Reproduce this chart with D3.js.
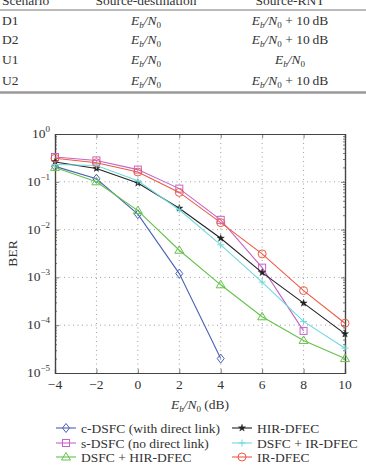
<!DOCTYPE html>
<html>
<head>
<meta charset="utf-8">
<script src="https://cdn.jsdelivr.net/npm/d3@7"></script>
<style>
  body { margin: 0; background: #fff; }
  svg { display: block; font-family: "Liberation Serif", "DejaVu Serif", serif; }
</style>
</head>
<body>
<div id="chart"></div>
<script>
// Table content
const tableHeader = ['Scenario', 'Source-destination', 'Source-RNT'];
const scenarios = ['D1', 'D2', 'U1', 'U2'];
const srcDest = ['ebn0', 'ebn0', 'ebn0', 'ebn0'];
const srcRnt = ['ebn0+10', 'ebn0+10', 'ebn0', 'ebn0+10'];

// Chart data
const snr = [-4, -2, 0, 2, 4, 6, 8, 10];
const xTicks = [-4, -2, 0, 2, 4, 6, 8, 10];
const yExps = [0, -1, -2, -3, -4, -5];

const cDsfc = [0.21, 0.116, 0.021, 0.0012, 2.0e-5];
const sDsfc = [0.33, 0.28, 0.18, 0.072, 0.016, 0.0016, 7.6e-5];
const dsfcHir = [0.2, 0.1, 0.025, 0.0037, 7.0e-4, 1.5e-4, 4.8e-5, 2.0e-5];
const hirDfec = [0.26, 0.19, 0.094, 0.028, 0.0066, 0.00126, 2.9e-4, 6.6e-5];
const dsfcIr = [0.23, 0.22, 0.105, 0.026, 0.0048, 8.0e-4, 1.2e-4, 3.3e-5];
const irDfec = [0.31, 0.25, 0.16, 0.06, 0.014, 0.0031, 5.3e-4, 1.1e-4];

const series = [
  {name: 'c-DSFC (with direct link)', values: cDsfc, color: '#4a62b4', marker: 'diamond'},
  {name: 's-DSFC (no direct link)', values: sDsfc, color: '#c564c8', marker: 'square'},
  {name: 'DSFC + HIR-DFEC', values: dsfcHir, color: '#64c24a', marker: 'triangle'},
  {name: 'HIR-DFEC', values: hirDfec, color: '#222222', marker: 'star'},
  {name: 'DSFC + IR-DFEC', values: dsfcIr, color: '#6fd9dc', marker: 'plus'},
  {name: 'IR-DFEC', values: irDfec, color: '#ee5a45', marker: 'circle'}
];

const W = 366, H = 466;
const svg = d3.select('#chart').append('svg').attr('width', W).attr('height', H);
const txt = '#333';

// ---- table ----
function ebn0(sel, x, y, plus) {
  const t = sel.append('text').attr('x', x).attr('y', y).attr('text-anchor', 'middle')
    .attr('font-size', 13.5).attr('fill', txt);
  t.append('tspan').attr('font-style', 'italic').text('E');
  t.append('tspan').attr('font-style', 'italic').attr('font-size', 9).attr('dy', 3).text('b');
  t.append('tspan').attr('font-style', 'italic').attr('dy', -3).text('/N');
  t.append('tspan').attr('font-size', 9).attr('dy', 3).text('0');
  if (plus) t.append('tspan').attr('dy', -3).text(' + 10\u2009dB');
  return t;
}

// header row sits at the very top edge, as in the cropped source
const colX = [2, 146, 290];
svg.append('text').attr('x', colX[0]).attr('y', 5).attr('font-size', 13.5).attr('fill', txt).text(tableHeader[0]);
svg.append('text').attr('x', colX[1]).attr('y', 5).attr('font-size', 13.5).attr('fill', txt)
  .attr('text-anchor', 'middle').text(tableHeader[1]);
svg.append('text').attr('x', colX[2]).attr('y', 5).attr('font-size', 13.5).attr('fill', txt)
  .attr('text-anchor', 'middle').text(tableHeader[2]);
svg.append('line').attr('x1', 0).attr('x2', W).attr('y1', 10).attr('y2', 10)
  .attr('stroke', '#777').attr('stroke-width', 1);

const rowY = [25, 44, 64, 85];
scenarios.forEach((s, i) => {
  svg.append('text').attr('x', colX[0]).attr('y', rowY[i]).attr('font-size', 13.5).attr('fill', txt).text(s);
  ebn0(svg, colX[1], rowY[i], srcDest[i] !== 'ebn0');
  ebn0(svg, colX[2], rowY[i], srcRnt[i] !== 'ebn0');
});
svg.append('line').attr('x1', 0).attr('x2', W).attr('y1', 92.5).attr('y2', 92.5)
  .attr('stroke', '#999').attr('stroke-width', 2.5);

// ---- plot ----
const plot = {left: 55, right: 345, top: 134, bottom: 373};
const x = d3.scaleLinear().domain([-4, 10]).range([plot.left, plot.right]);
const y = d3.scaleLog().domain([1e-5, 1]).range([plot.bottom, plot.top]);

const g = svg.append('g');

// grid
xTicks.slice(1, -1).forEach(t => {
  g.append('line').attr('x1', x(t)).attr('x2', x(t)).attr('y1', plot.top).attr('y2', plot.bottom)
    .attr('stroke', '#888').attr('stroke-width', 0.8).attr('stroke-dasharray', '1,3.5');
});
yExps.slice(1, -1).forEach(e => {
  g.append('line').attr('x1', plot.left).attr('x2', plot.right).attr('y1', y(10 ** e)).attr('y2', y(10 ** e))
    .attr('stroke', '#888').attr('stroke-width', 0.8).attr('stroke-dasharray', '1,3.5');
});

// axes with inward ticks
const minor = [];
for (let e = -5; e < 0; e++) for (let k = 2; k <= 9; k++) minor.push(k * 10 ** e);

g.append('g').attr('transform', `translate(0,${plot.bottom})`)
  .call(d3.axisBottom(x).tickValues(xTicks).tickSize(-4).tickFormat(''));
g.append('g').attr('transform', `translate(0,${plot.top})`)
  .call(d3.axisTop(x).tickValues(xTicks).tickSize(-4).tickFormat(''));
g.append('g').attr('transform', `translate(${plot.left},0)`)
  .call(d3.axisLeft(y).tickValues(yExps.map(e => 10 ** e)).tickSize(-4).tickFormat(''));
g.append('g').attr('transform', `translate(${plot.right},0)`)
  .call(d3.axisRight(y).tickValues(yExps.map(e => 10 ** e)).tickSize(-4).tickFormat(''));
g.append('g').attr('transform', `translate(${plot.left},0)`)
  .call(d3.axisLeft(y).tickValues(minor).tickSize(-2).tickFormat(''));
g.append('g').attr('transform', `translate(${plot.right},0)`)
  .call(d3.axisRight(y).tickValues(minor).tickSize(-2).tickFormat(''));
g.selectAll('.domain').attr('stroke', '#444').attr('stroke-width', 1.2);
g.selectAll('.tick line').attr('stroke', '#444').attr('stroke-width', 0.7);

// tick labels
xTicks.forEach(t => {
  svg.append('text').attr('x', x(t)).attr('y', 389).attr('text-anchor', 'middle')
    .attr('font-size', 13.5).attr('fill', txt).text(t < 0 ? '\u2212' + Math.abs(t) : t);
});
yExps.forEach(e => {
  const t = svg.append('text').attr('x', plot.left - 5).attr('y', y(10 ** e) + 4).attr('text-anchor', 'end')
    .attr('font-size', 13.5).attr('fill', txt);
  t.append('tspan').text('10');
  t.append('tspan').attr('font-size', 9).attr('dy', -6).text(e === 0 ? '0' : '\u2212' + Math.abs(e));
});

// axis titles
svg.append('text').attr('transform', `translate(17,${(plot.top + plot.bottom) / 2}) rotate(-90)`)
  .attr('text-anchor', 'middle').attr('font-size', 13.5).attr('fill', txt).text('BER');
const xl = svg.append('text').attr('x', 200).attr('y', 409).attr('text-anchor', 'middle')
  .attr('font-size', 13.5).attr('fill', txt);
xl.append('tspan').attr('font-style', 'italic').text('E');
xl.append('tspan').attr('font-style', 'italic').attr('font-size', 9).attr('dy', 3).text('b');
xl.append('tspan').attr('font-style', 'italic').attr('dy', -3).text('/N');
xl.append('tspan').attr('font-size', 9).attr('dy', 3).text('0');
xl.append('tspan').attr('dy', -3).text(' (dB)');

// markers
function drawMarker(sel, type, cx, cy, color) {
  const r = 4;
  if (type === 'circle') {
    sel.append('circle').attr('cx', cx).attr('cy', cy).attr('r', r).attr('fill', 'none')
      .attr('stroke', color).attr('stroke-width', 1);
  } else if (type === 'square') {
    sel.append('rect').attr('x', cx - 3.5).attr('y', cy - 3.5).attr('width', 7).attr('height', 7)
      .attr('fill', 'none').attr('stroke', color).attr('stroke-width', 1);
  } else if (type === 'diamond') {
    sel.append('path').attr('d', `M${cx},${cy - 4.5}L${cx + 3.5},${cy}L${cx},${cy + 4.5}L${cx - 3.5},${cy}Z`)
      .attr('fill', 'none').attr('stroke', color).attr('stroke-width', 1);
  } else if (type === 'triangle') {
    sel.append('path').attr('d', `M${cx},${cy - 4.5}L${cx + 4.5},${cy + 3}L${cx - 4.5},${cy + 3}Z`)
      .attr('fill', 'none').attr('stroke', color).attr('stroke-width', 1);
  } else if (type === 'plus') {
    sel.append('path').attr('d', `M${cx - 3.5},${cy}H${cx + 3.5}M${cx},${cy - 3.5}V${cy + 3.5}`)
      .attr('stroke', color).attr('stroke-width', 1);
  } else if (type === 'star') {
    sel.append('path').attr('d', d3.symbol(d3.symbolStar, 16)()).attr('transform', `translate(${cx},${cy})`)
      .attr('fill', color).attr('stroke', color).attr('stroke-width', 0.4);
  }
}

const line = d3.line().x((d, i) => x(snr[i])).y(d => y(d));
series.forEach(s => {
  g.append('path').datum(s.values).attr('d', line).attr('fill', 'none')
    .attr('stroke', s.color).attr('stroke-width', 1.1);
  s.values.forEach((v, i) => drawMarker(g, s.marker, x(snr[i]), y(v), s.color));
});

// legend
const legPos = [[56, 428], [56, 443], [56, 457], [232, 428], [232, 443], [232, 457]];
series.forEach((s, i) => {
  const [lx, ly] = legPos[i];
  svg.append('line').attr('x1', lx).attr('x2', lx + 20).attr('y1', ly).attr('y2', ly)
    .attr('stroke', s.color).attr('stroke-width', 1.1);
  drawMarker(svg, s.marker, lx + 10, ly, s.color);
  svg.append('text').attr('x', lx + 25).attr('y', ly + 4.5).attr('font-size', 13.5)
    .attr('fill', txt).text(s.name);
});
</script>
</body>
</html>
